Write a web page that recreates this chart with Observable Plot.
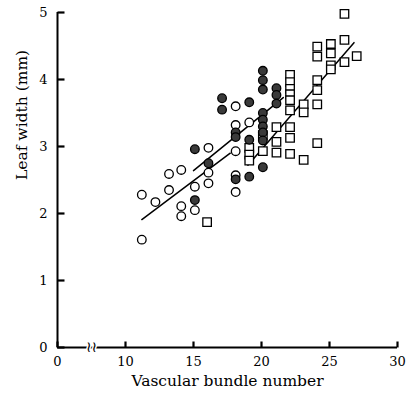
<!DOCTYPE html>
<html>
<head>
<meta charset="utf-8">
<script src="https://cdn.jsdelivr.net/npm/d3@7"></script>
<script src="https://cdn.jsdelivr.net/npm/@observablehq/plot@0.6"></script>
<style>
  html, body { margin: 0; padding: 0; background: #fff; }
</style>
</head>
<body>
<div id="chart"></div>
<script>
// ---- data ----
const xTicks = [5, 10, 15, 20, 25, 30];
const xTickLabels = ["0", "10", "15", "20", "25", "30"];
const yTicks = [0, 1, 2, 3, 4, 5];
const xLabel = "Vascular bundle number";
const yLabel = "Leaf width (mm)";
const breakAt = 7.5;

const openX = [11.2, 11.2, 12.2, 13.2, 13.2, 14.1, 14.1, 14.1, 15.1, 15.1, 16.1, 16.1, 16.1, 18.1, 18.1, 18.1, 18.1, 18.1, 19.1];
const openY = [2.28, 1.61, 2.17, 2.59, 2.35, 2.65, 2.11, 1.96, 2.40, 2.05, 2.98, 2.61, 2.45, 3.60, 3.32, 2.93, 2.57, 2.32, 3.36];

const filledX = [15.1, 15.1, 16.1, 17.1, 17.1, 18.1, 18.1, 18.1, 19.1, 19.1, 19.1, 20.1, 20.1, 20.1, 20.1, 20.1, 20.1, 20.1, 20.1, 20.1, 21.1, 21.1, 21.1];
const filledY = [2.96, 2.20, 2.75, 3.72, 3.55, 3.21, 3.14, 2.51, 3.66, 3.10, 2.55, 4.13, 3.99, 3.85, 3.50, 3.40, 3.30, 3.21, 3.09, 2.69, 3.87, 3.77, 3.64];

const squareX = [16.0, 19.1, 19.1, 19.1, 20.1, 20.1, 21.1, 21.1, 21.1, 22.1, 22.1, 22.1, 22.1, 22.1, 22.1, 22.1, 22.1, 22.1, 23.1, 23.1, 23.1, 24.1, 24.1, 24.1, 24.1, 24.1, 24.1, 25.1, 25.1, 25.1, 25.1, 26.1, 26.1, 26.1, 27.0];
const squareY = [1.87, 2.98, 2.88, 2.79, 3.17, 2.93, 3.29, 3.07, 2.91, 4.07, 3.96, 3.86, 3.78, 3.69, 3.54, 3.29, 3.13, 2.89, 3.63, 3.51, 2.80, 4.49, 4.34, 3.99, 3.84, 3.63, 3.05, 4.53, 4.39, 4.21, 4.15, 4.98, 4.59, 4.26, 4.35];

// regression line end points
const openLineX = [11.2, 17.7];
const openLineY = [1.91, 2.90];
const filledLineX = [15.0, 21.6];
const filledLineY = [2.64, 3.73];
const squareLineX = [19.0, 26.8];
const squareLineY = [2.72, 4.55];

// ---- layout ----
const W = 408, H = 403;
const mL = 57, mR = 11, mT = 12, mB = 56;
const xDom = [xTicks[0], xTicks[xTicks.length - 1]];
const yDom = [yTicks[0], yTicks[yTicks.length - 1]];
// inward tick lengths (px) converted to data units
const xTickLen = 6 * (yDom[1] - yDom[0]) / (H - mT - mB);
const yTickLen = 7 * (xDom[1] - xDom[0]) / (W - mL - mR);

// ---- build tables ----
const toPts = (xs, ys) => xs.map((x, i) => ({x, y: ys[i]}));
const openPts = toPts(openX, openY);
const filledPts = toPts(filledX, filledY);
const squarePts = toPts(squareX, squareY);
const linePts = [
  ...toPts(openLineX, openLineY).map(d => ({...d, g: "open"})),
  ...toPts(filledLineX, filledLineY).map(d => ({...d, g: "filled"})),
  ...toPts(squareLineX, squareLineY).map(d => ({...d, g: "square"}))
];
const xTickRows = xTicks.map(v => ({v, a: yDom[0], b: yDom[0] + xTickLen}));
const yTickRows = yTicks.map(v => ({v, a: xDom[0], b: xDom[0] + yTickLen}));

const font = "DejaVu Serif";

const chart = Plot.plot({
  width: W,
  height: H,
  marginLeft: mL,
  marginRight: mR,
  marginTop: mT,
  marginBottom: mB,
  x: {domain: xDom},
  y: {domain: yDom},
  style: {fontFamily: font, background: "white", color: "black"},
  marks: [
    Plot.ruleX([xDom[0]], {strokeWidth: 2, stroke: "black"}),
    Plot.ruleY([yDom[0]], {strokeWidth: 2, stroke: "black"}),
    // inward tick marks
    Plot.link(xTickRows, {x1: "v", x2: "v", y1: "a", y2: "b", stroke: "black", strokeWidth: 2.2}),
    Plot.link(yTickRows, {y1: "v", y2: "v", x1: "a", x2: "b", stroke: "black", strokeWidth: 2.2}),
    // tick labels
    Plot.axisX({
      ticks: xTicks,
      tickFormat: d => xTickLabels[xTicks.indexOf(d)],
      tickSize: 0,
      tickPadding: 9,
      fontSize: 13,
      fill: "black",
      label: null
    }),
    Plot.axisY({
      ticks: yTicks,
      tickFormat: d => String(d),
      tickSize: 0,
      tickPadding: 10,
      fontSize: 13,
      fill: "black",
      label: null
    }),
    Plot.text([{x: breakAt, y: yDom[0]}], {
      x: "x", y: "y", text: () => "≀≀",
      fontSize: 15, fontFamily: "DejaVu Sans",
      stroke: "white", strokeWidth: 3, fill: "black", paintOrder: "stroke"
    }),
    Plot.line(linePts, {x: "x", y: "y", z: "g", stroke: "black", strokeWidth: 1.5}),
    Plot.dot(openPts, {x: "x", y: "y", r: 4.3, fill: "white", stroke: "black", strokeWidth: 1.3}),
    Plot.dot(squarePts, {x: "x", y: "y", r: 4.8, symbol: "square", fill: "white", stroke: "black", strokeWidth: 1.3}),
    Plot.dot(filledPts, {x: "x", y: "y", r: 4.3, fill: "#3a3a3a", stroke: "black", strokeWidth: 1.3}),
    Plot.text([xLabel], {frameAnchor: "bottom", dy: 38, fontSize: 15.5, letterSpacing: 0.7, fill: "black"}),
    Plot.text([yLabel], {frameAnchor: "left", rotate: -90, dx: -35, fontSize: 15.5, letterSpacing: 0.7, fill: "black"})
  ]
});

document.getElementById("chart").appendChild(chart);
</script>
</body>
</html>
